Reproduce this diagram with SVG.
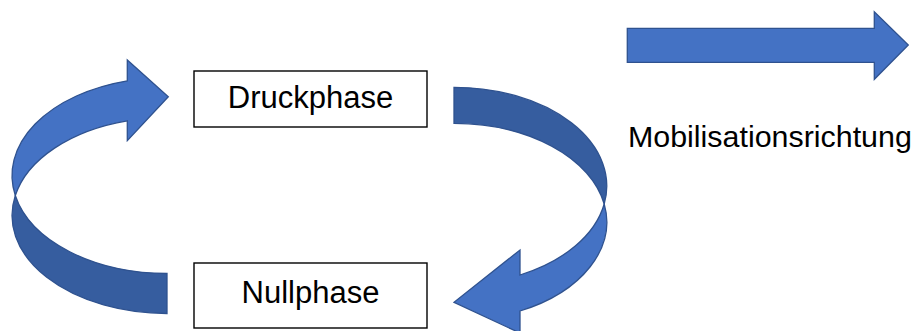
<svg xmlns="http://www.w3.org/2000/svg" width="923" height="331" viewBox="0 0 923 331">
<style>
.box{fill:#fff;stroke:#000;stroke-width:1.4}
.lbl{font-family:"Liberation Sans",Arial,sans-serif;font-size:31px;fill:#000}
.light{fill:#4472C4;stroke:#2F528F;stroke-width:1.3;stroke-linejoin:miter}
.dark{fill:#365D9F;stroke:#2F528F;stroke-width:1.3;stroke-linejoin:miter}
</style>
<rect width="923" height="331" fill="#fff"/>
<g id="connectors">
  <g id="arrow-left">
    <path class="dark" d="M15.3,195.5 A155 98 0 0 0 167,313.5 L167,273.5 A155 98 0 0 1 15.3,195.5 Z"/>
    <path class="light" d="M15.3,195.5 A155 98 0 0 1 127.3,80.8 L127.3,60 L168.3,96.7 L127.3,140.7 L127.3,120.8 A155 98 0 0 0 15.3,195.5 Z"/>
  </g>
  <g id="arrow-right">
    <path class="dark" d="M454,87.3 A152.7 98.7 0 0 1 604.2,204 A152.7 98.7 0 0 0 454,123.3 Z"/>
    <path class="light" d="M604.2,204 A152.7 98.7 0 0 1 520,311 L520,333 L454,302.3 L520,250 L520,275 A152.7 98.7 0 0 0 604.2,204 Z"/>
  </g>
  <g id="arrow-straight">
    <path class="light" d="M627.3,28.3 L874.3,28.3 L874.3,11.7 L908.3,45 L874.3,79.3 L874.3,62.3 L627.3,62.3 Z"/>
  </g>
</g>
<g id="node-druckphase">
  <rect class="box" x="194" y="71" width="233" height="56"/>
  <text class="lbl" x="310.5" y="108" text-anchor="middle">Druckphase</text>
</g>
<g id="node-nullphase">
  <rect class="box" x="194" y="263" width="233" height="65"/>
  <text class="lbl" x="310.5" y="303" text-anchor="middle">Nullphase</text>
</g>
<g id="label-mobilisation">
  <text class="lbl" x="628" y="147" style="font-size:30.4px">Mobilisationsrichtung</text>
</g>
</svg>
